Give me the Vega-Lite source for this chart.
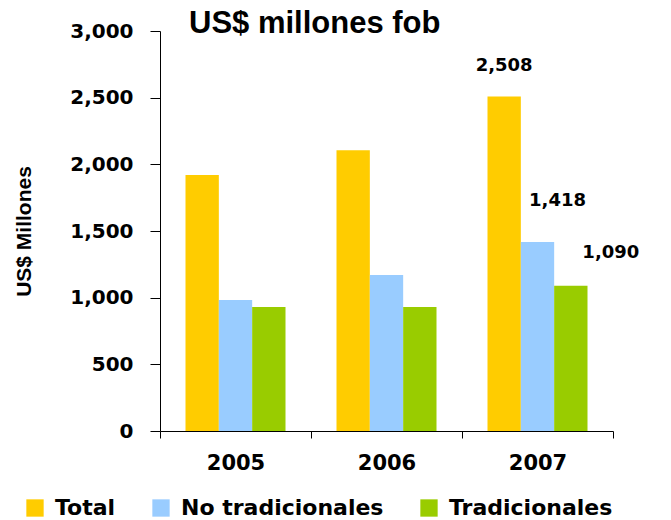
{
  "$schema": "https://vega.github.io/schema/vega-lite/v6.json",
  "width": 453,
  "height": 400,
  "autosize": "none",
  "padding": {"left": 160, "top": 31, "right": 58, "bottom": 89},
  "background": "white",
  "title": {
    "text": "US$ millones fob",
    "font": "Liberation Sans",
    "fontSize": 31,
    "fontWeight": "bold",
    "color": "black",
    "anchor": "start",
    "frame": "group",
    "dx": 29,
    "offset": -43,
    "baseline": "alphabetic"
  },
  "config": {
    "view": {"stroke": null},
    "axis": {"grid": false, "domainColor": "black", "tickColor": "black", "labelColor": "black", "titleColor": "black"}
  },
  "data": {
    "values": [
      {"year": "2005", "serie": "Total", "value": 1920},
      {"year": "2005", "serie": "No tradicionales", "value": 983},
      {"year": "2005", "serie": "Tradicionales", "value": 930},
      {"year": "2006", "serie": "Total", "value": 2105},
      {"year": "2006", "serie": "No tradicionales", "value": 1170},
      {"year": "2006", "serie": "Tradicionales", "value": 930},
      {"year": "2007", "serie": "Total", "value": 2508, "label": "2,508"},
      {"year": "2007", "serie": "No tradicionales", "value": 1418, "label": "1,418"},
      {"year": "2007", "serie": "Tradicionales", "value": 1090, "label": "1,090"}
    ]
  },
  "encoding": {
    "x": {
      "field": "year",
      "type": "nominal",
      "scale": {"paddingInner": 0, "paddingOuter": 0},
      "axis": {
        "title": null,
        "labelAngle": 0,
        "labelFont": "DejaVu Sans",
        "labelFontWeight": "bold",
        "labelFontSize": 21,
        "labelPadding": 14,
        "tickBand": "extent",
        "tickSize": 7
      }
    },
    "xOffset": {
      "field": "serie",
      "type": "nominal",
      "sort": ["Total", "No tradicionales", "Tradicionales"],
      "scale": {"paddingInner": 0, "paddingOuter": 0.765}
    },
    "y": {
      "field": "value",
      "type": "quantitative",
      "scale": {"domain": [0, 3000], "nice": false},
      "axis": {
        "title": "US$ Millones",
        "values": [0, 500, 1000, 1500, 2000, 2500, 3000],
        "format": ",.0f",
        "labelFont": "DejaVu Sans",
        "labelFontWeight": "bold",
        "labelFontSize": 20,
        "labelPadding": 17,
        "tickSize": 10,
        "titleFont": "Liberation Sans",
        "titleFontWeight": "bold",
        "titleFontSize": 21,
        "titlePadding": 35
      }
    }
  },
  "layer": [
    {
      "mark": {"type": "bar"},
      "encoding": {
        "color": {
          "field": "serie",
          "type": "nominal",
          "scale": {"domain": ["Total", "No tradicionales", "Tradicionales"], "range": ["#FFCC00", "#99CCFF", "#99CC00"]},
          "legend": {
            "title": null,
            "orient": "none",
            "legendX": -136,
            "legendY": 466,
            "direction": "horizontal",
            "symbolType": "square",
            "symbolSize": 300,
            "symbolStrokeWidth": 0,
            "labelFont": "DejaVu Sans",
            "labelFontWeight": "bold",
            "labelFontSize": 22,
            "labelColor": "black",
            "labelOffset": 9,
            "labelLimit": 400,
            "columnPadding": 34
          }
        }
      }
    },
    {
      "transform": [{"filter": "datum.serie === 'Total' && datum.label"}],
      "mark": {"type": "text", "font": "DejaVu Sans", "fontWeight": "bold", "fontSize": 18, "color": "black", "baseline": "alphabetic", "dx": 0, "dy": -26},
      "encoding": {"text": {"field": "label"}}
    },
    {
      "transform": [{"filter": "datum.serie === 'No tradicionales' && datum.label"}],
      "mark": {"type": "text", "font": "DejaVu Sans", "fontWeight": "bold", "fontSize": 18, "color": "black", "baseline": "alphabetic", "dx": 20, "dy": -36},
      "encoding": {"text": {"field": "label"}}
    },
    {
      "transform": [{"filter": "datum.serie === 'Tradicionales' && datum.label"}],
      "mark": {"type": "text", "font": "DejaVu Sans", "fontWeight": "bold", "fontSize": 18, "color": "black", "baseline": "alphabetic", "dx": 40, "dy": -28},
      "encoding": {"text": {"field": "label"}}
    }
  ]
}
